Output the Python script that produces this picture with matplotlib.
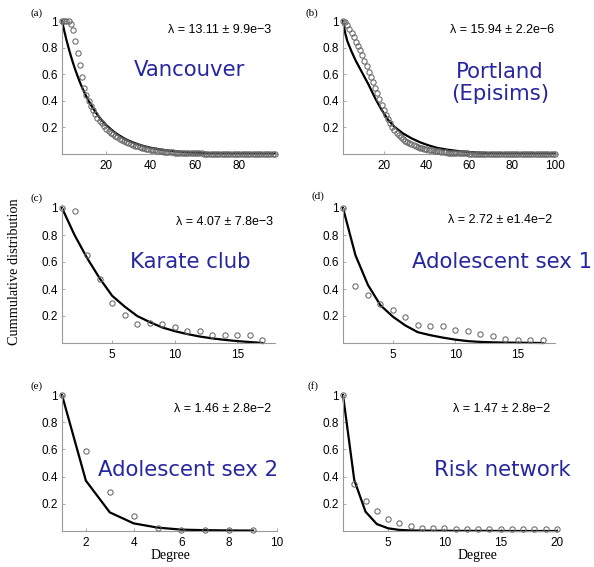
import numpy as np
import matplotlib
matplotlib.use("Agg")
import matplotlib.pyplot as plt

W, H = 594, 567

# ---- data (complementary cumulative degree distributions) ----
# (a) Vancouver: empirical points at every degree 0..96, fitted exponential line
vanc_deg = list(range(0, 97))
vanc_emp = [1.0, 1.0, 1.0, 1.0, 0.98, 0.93, 0.85, 0.76, 0.67, 0.58,
            0.50, 0.44, 0.40, 0.36, 0.33, 0.30, 0.27, 0.25, 0.23, 0.21,
            0.19, 0.175, 0.16, 0.148, 0.136, 0.125, 0.115, 0.106, 0.097, 0.089,
            0.082, 0.075, 0.069, 0.063, 0.058, 0.053, 0.048, 0.044, 0.040, 0.036,
            0.033, 0.030, 0.027, 0.025, 0.022, 0.020, 0.018, 0.016, 0.014, 0.013,
            0.012, 0.011, 0.010, 0.009, 0.008, 0.007, 0.007, 0.006, 0.006, 0.005,
            0.005, 0.004, 0.004, 0.004, 0.003, 0.003, 0.003, 0.003, 0.002, 0.002,
            0.002, 0.002, 0.002, 0.002, 0.002, 0.001, 0.001, 0.001, 0.001, 0.001,
            0.001, 0.001, 0.001, 0.001, 0.001, 0.001, 0.001, 0.001, 0.0, 0.0,
            0.0, 0.0, 0.0, 0.0, 0.0, 0.0, 0.0]
vanc_fit_x = [0, 1, 2, 3, 4, 5, 6, 7, 8, 9, 10, 11, 12, 13, 14, 15, 16, 17, 18, 19,
              20, 22, 24, 26, 28, 30, 33, 36, 40, 45, 50, 55, 60, 70, 80, 96]
vanc_fit_y = [1.0, 0.927, 0.858, 0.796, 0.737, 0.683, 0.633, 0.587, 0.543, 0.503,
              0.466, 0.432, 0.400, 0.371, 0.344, 0.318, 0.295, 0.273, 0.253, 0.235,
              0.217, 0.187, 0.160, 0.138, 0.118, 0.101, 0.081, 0.064, 0.047, 0.032,
              0.022, 0.015, 0.010, 0.005, 0.002, 0.001]

# (b) Portland (Episims): empirical points at degrees 1..100
port_deg = list(range(1, 101))
port_emp = [1.0, 0.99, 0.97, 0.94, 0.91, 0.88, 0.845, 0.81, 0.78, 0.745,
            0.70, 0.66, 0.62, 0.58, 0.54, 0.50, 0.46, 0.41, 0.37, 0.33,
            0.295, 0.26, 0.23, 0.205, 0.18, 0.16, 0.145, 0.13, 0.115, 0.10,
            0.09, 0.08, 0.072, 0.065, 0.059, 0.053, 0.048, 0.044, 0.040, 0.036,
            0.033, 0.030, 0.027, 0.024, 0.021, 0.019, 0.017, 0.015, 0.013, 0.011,
            0.010, 0.009, 0.008, 0.007, 0.006, 0.005, 0.005, 0.004, 0.004, 0.003,
            0.003, 0.003, 0.002, 0.002, 0.002, 0.002, 0.002, 0.001, 0.001, 0.001,
            0.001, 0.001, 0.001, 0.001, 0.001, 0.001, 0.001, 0.001, 0.001, 0.001,
            0.0, 0.0, 0.0, 0.0, 0.0, 0.0, 0.0, 0.0, 0.0, 0.0,
            0.0, 0.0, 0.0, 0.0, 0.0, 0.0, 0.0, 0.0, 0.0, 0.0]
port_fit_x = [1, 2, 3, 4, 5, 7, 10, 13, 16, 19, 22, 25, 29, 33, 37, 41, 45,
              50, 55, 60, 65, 70, 80, 100]
port_fit_y = [1.0, 0.91, 0.85, 0.81, 0.77, 0.70, 0.61, 0.52, 0.42, 0.333,
              0.258, 0.205, 0.155, 0.118, 0.088, 0.065, 0.046,
              0.032, 0.022, 0.015, 0.010, 0.006, 0.003, 0.001]

# (c) Karate club
kar_deg = list(range(1, 18))
kar_emp = [1.0, 0.975, 0.654, 0.474, 0.296, 0.205, 0.141, 0.148, 0.143, 0.118,
           0.091, 0.091, 0.062, 0.062, 0.062, 0.062, 0.025]
kar_fit = [1.0, 0.80, 0.63, 0.48, 0.35, 0.27, 0.20, 0.155, 0.115, 0.088,
           0.066, 0.048, 0.034, 0.023, 0.014, 0.007, 0.0]

# (d) Adolescent sex 1
ado1_deg = list(range(1, 18))
ado1_emp = [1.0, 0.425, 0.358, 0.291, 0.242, 0.19, 0.136, 0.123, 0.123, 0.099,
            0.086, 0.067, 0.054, 0.03, 0.02, 0.02, 0.02]
ado1_fit = [1.0, 0.65, 0.43, 0.28, 0.195, 0.13, 0.08, 0.058, 0.04, 0.025,
            0.014, 0.008, 0.005, 0.003, 0.002, 0.001, 0.0]

# (e) Adolescent sex 2
ado2_deg = list(range(1, 10))
ado2_emp = [1.0, 0.59, 0.284, 0.113, 0.02, 0.007, 0.007, 0.005, 0.005]
ado2_fit = [1.0, 0.37, 0.137, 0.056, 0.025, 0.01, 0.006, 0.004, 0.003]

# (f) Risk network
risk_deg = list(range(1, 21))
risk_emp = [1.0, 0.343, 0.22, 0.147, 0.088, 0.061, 0.039, 0.02, 0.02, 0.02,
            0.018, 0.018, 0.017, 0.017, 0.016, 0.016, 0.015, 0.015, 0.015, 0.015]
risk_fit = [1.0, 0.375, 0.142, 0.051, 0.02, 0.008, 0.004, 0.003, 0.002, 0.002,
            0.001, 0.001, 0.001, 0.001, 0.0, 0.0, 0.0, 0.0, 0.0, 0.0]

letters = ["(a)", "(b)", "(c)", "(d)", "(e)", "(f)"]
lambdas = ["\u03bb = 13.11 \u00b1 9.9e\u22123", "\u03bb = 15.94 \u00b1 2.2e\u22126",
           "\u03bb = 4.07 \u00b1 7.8e\u22123", "\u03bb = 2.72 \u00b1 e1.4e\u22122",
           "\u03bb = 1.46 \u00b1 2.8e\u22122", "\u03bb = 1.47 \u00b1 2.8e\u22122"]
names = ["Vancouver", "Portland\n(Episims)", "Karate club",
         "Adolescent sex 1", "Adolescent sex 2", "Risk network"]

panels = [
    (vanc_deg, vanc_emp, vanc_fit_x, vanc_fit_y, (0, 97), [20, 40, 60, 80]),
    (port_deg, port_emp, port_fit_x, port_fit_y, (1, 101), [20, 40, 60, 80, 100]),
    (kar_deg, kar_emp, kar_deg, kar_fit, (1, 18), [5, 10, 15]),
    (ado1_deg, ado1_emp, ado1_deg, ado1_fit, (1, 18), [5, 10, 15]),
    (ado2_deg, ado2_emp, ado2_deg, ado2_fit, (1, 10), [2, 4, 6, 8, 10]),
    (risk_deg, risk_emp, risk_deg, risk_fit, (1, 20), [5, 10, 15, 20]),
]

# axes boxes in pixels: left, right, top, bottom
boxes = [(62, 277, 21, 154), (343, 557, 21, 154),
         (62, 275, 208, 343), (343, 555, 208, 343),
         (62, 277, 395, 531), (343, 557, 395, 531)]
# text anchors in pixels
letter_pos = [(37, 13), (312, 13), (37, 198), (318, 196), (37, 386), (313, 386)]
lambda_pos = [(220, 30), (502, 30), (224, 222), (500, 220), (223, 409), (502, 409)]
name_pos = [(190, 70), (500, 83), (190, 262), (502, 262), (188, 470), (502, 470)]

sans = "Liberation Sans"
serif = "Liberation Serif"
blue = "#2626a0"

fig = plt.figure(figsize=(W / 100, H / 100), dpi=100)


def px(x, y):
    return x / W, 1 - y / H


for i, (xe, ye, xf, yf, xlim, xticks) in enumerate(panels):
    l, r, t, b = boxes[i]
    ax = fig.add_axes([l / W, 1 - b / H, (r - l) / W, (b - t) / H])
    ax.plot(xf, yf, color="black", lw=1.6, zorder=2, clip_on=False)
    ax.plot(xe, ye, "o", mfc="none", mec="#666666", ms=3.8, mew=0.75,
            zorder=3, clip_on=False)
    ax.set_xlim(*xlim)
    ax.set_ylim(0, 1)
    ax.set_xticks(xticks)
    ax.set_yticks([0.2, 0.4, 0.6, 0.8, 1.0])
    ax.set_yticklabels(["0.2", "0.4", "0.6", "0.8", "1"])
    for s in ["top", "right"]:
        ax.spines[s].set_visible(False)
    for s in ["left", "bottom"]:
        ax.spines[s].set_color("#9a9a9a")
        ax.spines[s].set_linewidth(0.8)
    ax.tick_params(direction="in", length=2.5, width=0.6, color="#9a9a9a",
                   labelsize=8.5, pad=3)
    ax.tick_params(axis="x", pad=4)
    for lab in ax.get_xticklabels() + ax.get_yticklabels():
        lab.set_fontfamily(sans)

    fig.text(*px(*letter_pos[i]), letters[i], family=serif, fontsize=8,
             ha="center", va="center")
    fig.text(*px(*lambda_pos[i]), lambdas[i], family=sans, fontsize=9,
             ha="center", va="center")
    fig.text(*px(*name_pos[i]), names[i], family="DejaVu Sans", fontsize=15.3,
             color=blue, ha="center", va="center", linespacing=1.1)

fig.text(*px(15, 272), "Cummulative distribution", family=serif, fontsize=10.3,
         rotation=90, ha="center", va="center")
fig.text(*px(170, 555), "Degree", family=serif, fontsize=10,
         ha="center", va="center")
fig.text(*px(477, 555), "Degree", family=serif, fontsize=10,
         ha="center", va="center")

fig.savefig("out.png", dpi=100)
